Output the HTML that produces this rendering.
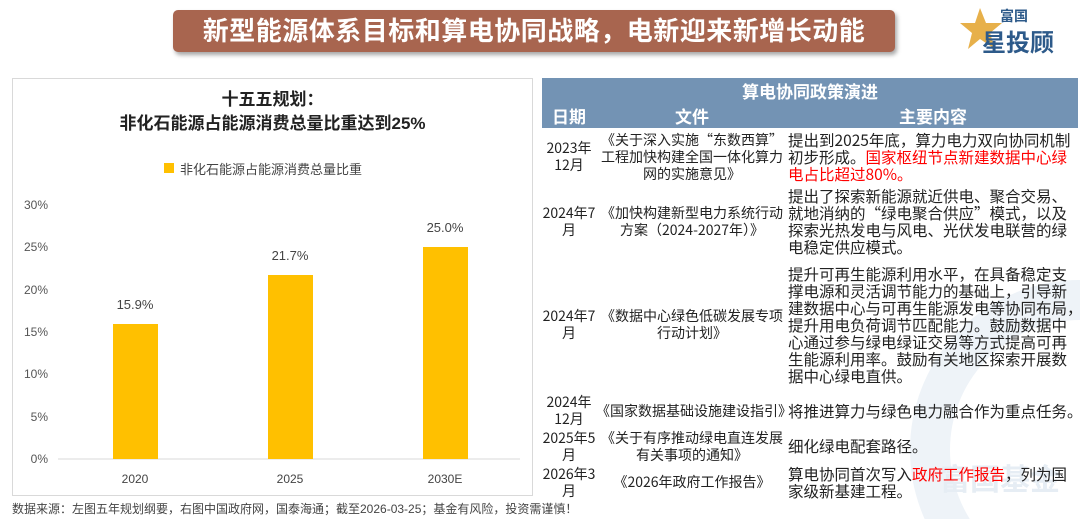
<!DOCTYPE html>
<html><head><meta charset="utf-8"><style>
*{margin:0;padding:0;box-sizing:border-box}
body{width:1080px;height:519px;background:#fff;position:relative;overflow:hidden;font-family:"Liberation Sans","Noto Sans CJK SC",sans-serif;color:#222}
.banner{position:absolute;left:173px;top:10px;width:722px;height:42px;background:#a8654f;border-radius:5px;box-shadow:2px 3px 4px rgba(0,0,0,.35);color:#fff;font-size:26px;font-weight:bold;text-align:center;line-height:42px;letter-spacing:0.5px}
.logo{position:absolute;left:960px;top:3px;width:115px;height:52px}
.panel{position:absolute;left:12px;top:78px;width:521px;height:418px;border:1px solid #d9d9d9}
.abs{position:absolute}
table{position:absolute;left:542px;top:78px;width:536px;border-collapse:collapse;table-layout:fixed;font-size:15.5px;line-height:17px;font-family:"Noto Sans CJK SC",sans-serif}
th{background:#7393b4;color:#fff;font-weight:bold;font-size:17px;height:25px;line-height:22px}
td{vertical-align:middle;padding:0;background:transparent;overflow:hidden}
td.d{text-align:center;font-size:14px;line-height:17px}
td.c{text-align:center;font-size:14px}
.nw{white-space:nowrap;overflow:visible}
.red{color:#f00}
.foot{position:absolute;left:12px;top:502px;font-size:12px;line-height:14px;color:#444}
</style></head><body>
<div class="banner">新型能源体系目标和算电协同战略，电新迎来新增长动能</div>
<div class="logo">
<svg width="115" height="52"><polygon points="20,5 26,20 42,20 30,30 35,46 20,36 8,46 12,30 0,20 15,20" fill="#e7b04a"/>
<text x="40" y="18" font-size="14" font-weight="bold" fill="#2d5a8a" font-family="Noto Sans CJK SC">富国</text>
<text x="22" y="48" font-size="24" font-weight="bold" fill="#2d5a8a" font-family="Noto Sans CJK SC">星投顾</text></svg></div>

<div class="panel"></div>
<div class="abs" style="left:12px;top:88px;width:521px;text-align:center;font-size:17px;font-weight:bold;line-height:24px">十五五规划：<br>非化石能源占能源消费总量比重达到25%</div>
<div class="abs" style="left:164px;top:163px;width:10px;height:10px;background:#ffc000"></div>
<div class="abs" style="left:180px;top:159px;font-size:13px;color:#444">非化石能源占能源消费总量比重</div>
<svg class="abs" style="left:0;top:0" width="540" height="500" font-family="Liberation Sans" font-size="12" fill="#555">
<line x1="58" y1="459" x2="520" y2="459" stroke="#d9d9d9"/>
<g text-anchor="end"><text x="48" y="209">30%</text><text x="48" y="251">25%</text><text x="48" y="294">20%</text><text x="48" y="336">15%</text><text x="48" y="378">10%</text><text x="48" y="421">5%</text><text x="48" y="463">0%</text></g>
<rect x="113" y="324" width="45" height="135" fill="#ffc000"/>
<rect x="268" y="275" width="45" height="184" fill="#ffc000"/>
<rect x="423" y="247" width="45" height="212" fill="#ffc000"/>
<g text-anchor="middle" font-size="13" fill="#444"><text x="135" y="309">15.9%</text><text x="290" y="260">21.7%</text><text x="445" y="232">25.0%</text>
<text x="135" y="483" font-size="12">2020</text><text x="290" y="483" font-size="12">2025</text><text x="445" y="483" font-size="12">2030E</text></g>
</svg>

<svg class="abs" style="left:900px;top:250px" width="180" height="269"><circle cx="180" cy="200" r="150" fill="none" stroke="#eef3f8" stroke-width="40"/><text x="40" y="240" font-size="30" font-weight="bold" fill="#e6edf4" font-family="Noto Sans CJK SC">富国基金</text></svg>

<table>
<colgroup><col style="width:54px"><col style="width:192px"><col style="width:290px"></colgroup>
<tr><th colspan="3">算电协同政策演进</th></tr>
<tr><th>日期</th><th>文件</th><th>主要内容</th></tr>
<tr style="height:58px"><td class="d">2023年<br>12月</td><td class="c nw">《关于深入实施“东数西算”<br>工程加快构建全国一体化算力<br>网的实施意见》</td><td>提出到2025年底，算力电力双向协同机制初步形成。<span class="red">国家枢纽节点新建数据中心绿电占比超过80%。</span></td></tr>
<tr style="height:71px"><td class="d">2024年7月</td><td class="c">《加快构建新型电力系统行动方案（2024-2027年）》</td><td>提出了探索新能源就近供电、聚合交易、就地消纳的“绿电聚合供应”模式，以及探索光热发电与风电、光伏发电联营的绿电稳定供应模式。</td></tr>
<tr style="height:136px"><td class="d">2024年7月</td><td class="c">《数据中心绿色低碳发展专项行动计划》</td><td class="nw">提升可再生能源利用水平，在具备稳定支<br>撑电源和灵活调节能力的基础上，引导新<br>建数据中心与可再生能源发电等协同布局，<br>提升用电负荷调节匹配能力。鼓励数据中<br>心通过参与绿电绿证交易等方式提高可再<br>生能源利用率。鼓励有关地区探索开展数<br>据中心绿电直供。</td></tr>
<tr style="height:36px"><td class="d">2024年<br>12月</td><td class="c nw">《国家数据基础设施建设指引》</td><td class="nw">将推进算力与绿色电力融合作为重点任务。</td></tr>
<tr style="height:35px"><td class="d">2025年5月</td><td class="c">《关于有序推动绿电直连发展有关事项的通知》</td><td>细化绿电配套路径。</td></tr>
<tr style="height:37px"><td class="d">2026年3月</td><td class="c">《2026年政府工作报告》</td><td>算电协同首次写入<span class="red">政府工作报告</span>，列为国家级新基建工程。</td></tr>
</table>
<div class="foot">数据来源：左图五年规划纲要，右图中国政府网，国泰海通；截至2026-03-25；基金有风险，投资需谨慎！</div>
</body></html>
